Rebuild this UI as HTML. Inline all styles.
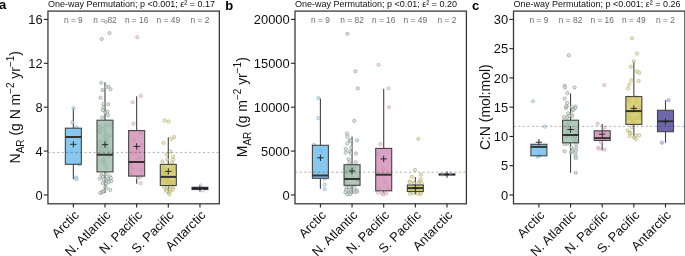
<!DOCTYPE html>
<html><head><meta charset="utf-8"><title>Figure</title><style>html,body{margin:0;padding:0;background:#fff;width:685px;height:256px;overflow:hidden;}
svg{display:block;}
text{font-family:"Liberation Sans",Arial,sans-serif;}
.tk{font-size:12.9px;fill:#111;}
.n{font-size:8.4px;fill:#6b6b6b;}
.ti{font-size:9px;fill:#111;}
.pl{font-size:13px;font-weight:bold;fill:#000;}
.at{font-size:13.9px;fill:#111;}
</style></head><body>
<svg width="685" height="256" viewBox="0 0 685 256">
<rect width="685" height="256" fill="#fff"/>
<path d="M73.35 107.6V128.2M73.35 164.3V179.3" stroke="#444" stroke-width="1.1" fill="none"/>
<g fill="#c8e5f6" fill-opacity="0.7" stroke="#7aa3c0" stroke-width="0.6"><circle cx="73.5" cy="108.3" r="1.6"/><circle cx="72.3" cy="122.3" r="1.6"/><circle cx="76.4" cy="127.2" r="1.6"/><circle cx="79.3" cy="164.4" r="1.6"/><circle cx="76" cy="177.6" r="1.6"/><circle cx="76.4" cy="179.2" r="1.6"/></g>
<rect x="65.35" y="128.2" width="16.0" height="36.1" fill="#69bcea" fill-opacity="0.8" stroke="#444" stroke-width="1.1"/>
<line x1="65.35" y1="137.0" x2="81.35" y2="137.0" stroke="#333" stroke-width="2"/>
<path d="M70.15 144.3h6.4M73.35 141.1v6.4" stroke="#222" stroke-width="0.95" fill="none"/>
<path d="M105 82.3V120.2M105 171.9V193.0" stroke="#444" stroke-width="1.1" fill="none"/>
<g fill="#d5e3db" fill-opacity="0.7" stroke="#7f8e86" stroke-width="0.6"><circle cx="105.8" cy="21.8" r="1.6"/><circle cx="109.5" cy="33.1" r="1.6"/><circle cx="101.7" cy="39" r="1.6"/><circle cx="101.25" cy="82.75" r="1.6"/><circle cx="105.9" cy="87" r="1.6"/><circle cx="108.6" cy="86.75" r="1.6"/><circle cx="110.5" cy="89.25" r="1.6"/><circle cx="102.5" cy="90.1" r="1.6"/><circle cx="100.5" cy="97.75" r="1.6"/><circle cx="103.4" cy="103.9" r="1.6"/><circle cx="108.4" cy="104.25" r="1.6"/><circle cx="103.4" cy="107.4" r="1.6"/><circle cx="102.75" cy="110" r="1.6"/><circle cx="107.5" cy="111.5" r="1.6"/><circle cx="108" cy="115.25" r="1.6"/><circle cx="102.1" cy="117.25" r="1.6"/><circle cx="105.25" cy="112.5" r="1.6"/><circle cx="105.25" cy="127.5" r="1.6"/><circle cx="99" cy="129.4" r="1.6"/><circle cx="105.5" cy="131.9" r="1.6"/><circle cx="105.5" cy="134.75" r="1.6"/><circle cx="100.9" cy="140.6" r="1.6"/><circle cx="104" cy="142.5" r="1.6"/><circle cx="106.5" cy="145" r="1.6"/><circle cx="102.75" cy="146.25" r="1.6"/><circle cx="107.75" cy="148.1" r="1.6"/><circle cx="100.25" cy="149.4" r="1.6"/><circle cx="104.6" cy="150.6" r="1.6"/><circle cx="109" cy="151.25" r="1.6"/><circle cx="101.5" cy="174.9" r="1.6"/><circle cx="105.9" cy="174.25" r="1.6"/><circle cx="102.75" cy="176.75" r="1.6"/><circle cx="109.6" cy="176.1" r="1.6"/><circle cx="99.6" cy="178.6" r="1.6"/><circle cx="103.75" cy="179.25" r="1.6"/><circle cx="107.75" cy="178.6" r="1.6"/><circle cx="110.9" cy="178" r="1.6"/><circle cx="106.5" cy="181.1" r="1.6"/><circle cx="109" cy="180.5" r="1.6"/><circle cx="111.25" cy="181.1" r="1.6"/><circle cx="102.5" cy="183" r="1.6"/><circle cx="105.9" cy="183.6" r="1.6"/><circle cx="108.4" cy="182.4" r="1.6"/><circle cx="105.25" cy="186.75" r="1.6"/><circle cx="106.5" cy="188" r="1.6"/><circle cx="110.25" cy="189.9" r="1.6"/><circle cx="104" cy="190.5" r="1.6"/><circle cx="101.5" cy="192.4" r="1.6"/><circle cx="100.25" cy="193" r="1.6"/><circle cx="103" cy="191.75" r="1.6"/><circle cx="102.71" cy="129.05" r="1.6"/><circle cx="106.96" cy="125.23" r="1.6"/><circle cx="105.47" cy="139.51" r="1.6"/><circle cx="99.25" cy="146.41" r="1.6"/><circle cx="98.99" cy="142.82" r="1.6"/><circle cx="99.41" cy="126.12" r="1.6"/><circle cx="104.02" cy="161.97" r="1.6"/><circle cx="100.11" cy="132.57" r="1.6"/><circle cx="106.66" cy="167.85" r="1.6"/><circle cx="106" cy="141.02" r="1.6"/><circle cx="111.19" cy="123.97" r="1.6"/><circle cx="109.66" cy="135.8" r="1.6"/><circle cx="100.38" cy="127.44" r="1.6"/><circle cx="102.51" cy="161.45" r="1.6"/><circle cx="100.85" cy="150.02" r="1.6"/><circle cx="106.81" cy="139.84" r="1.6"/><circle cx="105.62" cy="124.76" r="1.6"/><circle cx="99.27" cy="131.73" r="1.6"/><circle cx="107.35" cy="142.52" r="1.6"/><circle cx="102.58" cy="150.22" r="1.6"/><circle cx="104.39" cy="136.3" r="1.6"/><circle cx="108.83" cy="155.74" r="1.6"/><circle cx="101.67" cy="149.67" r="1.6"/><circle cx="105.33" cy="164.32" r="1.6"/><circle cx="107.98" cy="135.72" r="1.6"/><circle cx="111.24" cy="127.45" r="1.6"/><circle cx="103.94" cy="158.57" r="1.6"/><circle cx="100.48" cy="145.51" r="1.6"/><circle cx="99.01" cy="154.24" r="1.6"/><circle cx="108.44" cy="149.61" r="1.6"/></g>
<rect x="97" y="120.2" width="16.0" height="51.7" fill="#9cbcaa" fill-opacity="0.8" stroke="#444" stroke-width="1.1"/>
<line x1="97" y1="154.7" x2="113" y2="154.7" stroke="#333" stroke-width="2"/>
<path d="M101.8 144.7h6.4M105 141.5v6.4" stroke="#222" stroke-width="0.95" fill="none"/>
<path d="M136.65 96.3V130.6M136.65 176.1V183.8" stroke="#444" stroke-width="1.1" fill="none"/>
<g fill="#eed3e3" fill-opacity="0.7" stroke="#c693b3" stroke-width="0.6"><circle cx="137.3" cy="37.2" r="1.6"/><circle cx="140.8" cy="95.8" r="1.6"/><circle cx="132.7" cy="102.3" r="1.6"/><circle cx="133.4" cy="123.6" r="1.6"/><circle cx="140.8" cy="132.9" r="1.6"/><circle cx="132.5" cy="152.9" r="1.6"/><circle cx="137.2" cy="159.9" r="1.6"/><circle cx="132.3" cy="169.1" r="1.6"/><circle cx="130.8" cy="174.3" r="1.6"/><circle cx="137.8" cy="177.9" r="1.6"/><circle cx="140.5" cy="176.7" r="1.6"/><circle cx="140.5" cy="183.1" r="1.6"/><circle cx="134" cy="140" r="1.6"/><circle cx="139" cy="148" r="1.6"/><circle cx="131" cy="165" r="1.6"/><circle cx="141" cy="170" r="1.6"/><circle cx="141.53" cy="145.43" r="1.6"/><circle cx="139.19" cy="157.36" r="1.6"/><circle cx="137.69" cy="151.49" r="1.6"/></g>
<rect x="128.65" y="130.6" width="16.0" height="45.5" fill="#d18cb5" fill-opacity="0.8" stroke="#444" stroke-width="1.1"/>
<line x1="128.65" y1="162.0" x2="144.65" y2="162.0" stroke="#333" stroke-width="2"/>
<path d="M133.45 146.4h6.4M136.65 143.2v6.4" stroke="#222" stroke-width="0.95" fill="none"/>
<path d="M168.3 137.2V164.4M168.3 185.5V194.0" stroke="#444" stroke-width="1.1" fill="none"/>
<g fill="#ece8c0" fill-opacity="0.7" stroke="#aaa366" stroke-width="0.6"><circle cx="164.5" cy="120.6" r="1.6"/><circle cx="168.6" cy="121.5" r="1.6"/><circle cx="171.4" cy="138.75" r="1.6"/><circle cx="174.25" cy="137" r="1.6"/><circle cx="163.5" cy="142.9" r="1.6"/><circle cx="170.4" cy="151.6" r="1.6"/><circle cx="166.6" cy="154.5" r="1.6"/><circle cx="173" cy="156.6" r="1.6"/><circle cx="167.25" cy="159.5" r="1.6"/><circle cx="173.25" cy="159.75" r="1.6"/><circle cx="162.4" cy="161.4" r="1.6"/><circle cx="172" cy="162.5" r="1.6"/><circle cx="163.9" cy="186.75" r="1.6"/><circle cx="167" cy="187.4" r="1.6"/><circle cx="170.75" cy="187" r="1.6"/><circle cx="173.5" cy="187.75" r="1.6"/><circle cx="165.75" cy="189.9" r="1.6"/><circle cx="170.1" cy="189.5" r="1.6"/><circle cx="172.6" cy="189.9" r="1.6"/><circle cx="166.75" cy="191.1" r="1.6"/><circle cx="169.5" cy="192.4" r="1.6"/><circle cx="169.25" cy="194.25" r="1.6"/><circle cx="172.72" cy="183" r="1.6"/><circle cx="167.96" cy="177.92" r="1.6"/><circle cx="162.59" cy="178.6" r="1.6"/><circle cx="170.21" cy="183.88" r="1.6"/><circle cx="172.49" cy="171.05" r="1.6"/><circle cx="166.82" cy="178" r="1.6"/><circle cx="162.09" cy="174.26" r="1.6"/><circle cx="163.98" cy="168.02" r="1.6"/><circle cx="162.57" cy="179.81" r="1.6"/><circle cx="163.48" cy="170.38" r="1.6"/><circle cx="166.88" cy="181.67" r="1.6"/><circle cx="162.85" cy="174.03" r="1.6"/><circle cx="168.94" cy="181.89" r="1.6"/><circle cx="172.45" cy="181.54" r="1.6"/><circle cx="165.42" cy="173.42" r="1.6"/><circle cx="166.46" cy="181.9" r="1.6"/><circle cx="174.25" cy="168.63" r="1.6"/><circle cx="164.09" cy="170.1" r="1.6"/><circle cx="164.83" cy="174.68" r="1.6"/><circle cx="169.46" cy="170.66" r="1.6"/><circle cx="161.85" cy="173.48" r="1.6"/><circle cx="166.6" cy="176.15" r="1.6"/></g>
<rect x="160.3" y="164.4" width="16.0" height="21.1" fill="#d1c75d" fill-opacity="0.8" stroke="#444" stroke-width="1.1"/>
<line x1="160.3" y1="176.9" x2="176.3" y2="176.9" stroke="#333" stroke-width="2"/>
<path d="M165.1 171.4h6.4M168.3 168.2v6.4" stroke="#222" stroke-width="0.95" fill="none"/>
<path d="M199.95 187.6V187.2M199.95 189.6V189.5" stroke="#444" stroke-width="1.1" fill="none"/>
<rect x="191.95" y="187.2" width="16.0" height="2.4" fill="#222" stroke="#444" stroke-width="1.0"/>
<line x1="191.95" y1="188.4" x2="207.95" y2="188.4" stroke="#1a1a1a" stroke-width="1.5"/>
<path d="M196.75 188.4h6.4M199.95 185.2v6.4" stroke="#222" stroke-width="0.95" fill="none"/>
<g fill="#c4c0e6" fill-opacity="0.7" stroke="#847ebd" stroke-width="0.6" opacity="0.55"><circle cx="200.6" cy="185.3" r="1.6"/><circle cx="202.6" cy="190.6" r="1.6"/></g>
<line x1="47.95" y1="152.4" x2="219.35" y2="152.4" stroke="#222" stroke-opacity="0.38" stroke-width="0.9" stroke-dasharray="2.3 2.253"/>
<rect x="47.95" y="11.1" width="171.4" height="192.7" fill="none" stroke="#3a3a3a" stroke-width="1.3"/>
<line x1="43.85" y1="194.95" x2="47.95" y2="194.95" stroke="#222" stroke-width="1.1"/>
<text x="42.65" y="199.55" text-anchor="end" class="tk">0</text>
<line x1="43.85" y1="151.06" x2="47.95" y2="151.06" stroke="#222" stroke-width="1.1"/>
<text x="42.65" y="155.66" text-anchor="end" class="tk">4</text>
<line x1="43.85" y1="107.17" x2="47.95" y2="107.17" stroke="#222" stroke-width="1.1"/>
<text x="42.65" y="111.77" text-anchor="end" class="tk">8</text>
<line x1="43.85" y1="63.29" x2="47.95" y2="63.29" stroke="#222" stroke-width="1.1"/>
<text x="42.65" y="67.89" text-anchor="end" class="tk">12</text>
<line x1="43.85" y1="19.4" x2="47.95" y2="19.4" stroke="#222" stroke-width="1.1"/>
<text x="42.65" y="24" text-anchor="end" class="tk">16</text>
<line x1="73.35" y1="203.8" x2="73.35" y2="207.5" stroke="#222" stroke-width="1.1"/>
<text transform="translate(79.7,216) rotate(-45)" text-anchor="end" class="tk">Arctic</text>
<text x="73.35" y="23" text-anchor="middle" class="n">n = 9</text>
<line x1="105" y1="203.8" x2="105" y2="207.5" stroke="#222" stroke-width="1.1"/>
<text transform="translate(111.35,216) rotate(-45)" text-anchor="end" class="tk">N. Atlantic</text>
<text x="105" y="23" text-anchor="middle" class="n">n = 82</text>
<line x1="136.65" y1="203.8" x2="136.65" y2="207.5" stroke="#222" stroke-width="1.1"/>
<text transform="translate(143,216) rotate(-45)" text-anchor="end" class="tk">N. Pacific</text>
<text x="136.65" y="23" text-anchor="middle" class="n">n = 16</text>
<line x1="168.3" y1="203.8" x2="168.3" y2="207.5" stroke="#222" stroke-width="1.1"/>
<text transform="translate(174.65,216) rotate(-45)" text-anchor="end" class="tk">S. Pacific</text>
<text x="168.3" y="23" text-anchor="middle" class="n">n = 49</text>
<line x1="199.95" y1="203.8" x2="199.95" y2="207.5" stroke="#222" stroke-width="1.1"/>
<text transform="translate(206.3,216) rotate(-45)" text-anchor="end" class="tk">Antarctic</text>
<text x="199.95" y="23" text-anchor="middle" class="n">n = 2</text>
<text x="47.95" y="6.8" class="ti">One-way Permutation; p &lt;0.001; ε² = 0.17</text>
<text x="-1.0" y="9.3" class="pl">a</text>
<path d="M320.4 98.6V145.3M320.4 178.3V188.8" stroke="#444" stroke-width="1.1" fill="none"/>
<g fill="#c8e5f6" fill-opacity="0.7" stroke="#7aa3c0" stroke-width="0.6"><circle cx="318.4" cy="98.1" r="1.6"/><circle cx="318.4" cy="118.1" r="1.6"/><circle cx="314" cy="144.8" r="1.6"/><circle cx="324.7" cy="178.75" r="1.6"/><circle cx="324.7" cy="184.5" r="1.6"/><circle cx="324.7" cy="189.2" r="1.6"/><circle cx="320.7" cy="150.4" r="1.6"/></g>
<rect x="312.4" y="145.3" width="16.0" height="33" fill="#69bcea" fill-opacity="0.8" stroke="#444" stroke-width="1.1"/>
<line x1="312.4" y1="175.5" x2="328.4" y2="175.5" stroke="#333" stroke-width="2"/>
<path d="M317.2 157.8h6.4M320.4 154.6v6.4" stroke="#222" stroke-width="0.95" fill="none"/>
<path d="M352.05 136.6V164.7M352.05 185.3V194.0" stroke="#444" stroke-width="1.1" fill="none"/>
<g fill="#d5e3db" fill-opacity="0.7" stroke="#7f8e86" stroke-width="0.6"><circle cx="347.3" cy="33.75" r="1.6"/><circle cx="355.4" cy="71.25" r="1.6"/><circle cx="357.8" cy="88.4" r="1.6"/><circle cx="354.3" cy="120.8" r="1.6"/><circle cx="347" cy="133.5" r="1.6"/><circle cx="347.25" cy="136.4" r="1.6"/><circle cx="349.5" cy="140.1" r="1.6"/><circle cx="350.75" cy="140.75" r="1.6"/><circle cx="357" cy="140.5" r="1.6"/><circle cx="347.5" cy="143.25" r="1.6"/><circle cx="351.25" cy="147.6" r="1.6"/><circle cx="345.75" cy="148.9" r="1.6"/><circle cx="349.75" cy="151.4" r="1.6"/><circle cx="345.75" cy="152.6" r="1.6"/><circle cx="351" cy="153.5" r="1.6"/><circle cx="356" cy="153.5" r="1.6"/><circle cx="348.5" cy="159.25" r="1.6"/><circle cx="349.5" cy="162.6" r="1.6"/><circle cx="355.75" cy="162.25" r="1.6"/><circle cx="346.6" cy="187.25" r="1.6"/><circle cx="349.1" cy="187.9" r="1.6"/><circle cx="354.1" cy="187.5" r="1.6"/><circle cx="346" cy="189.75" r="1.6"/><circle cx="350.4" cy="189.75" r="1.6"/><circle cx="356.6" cy="190.4" r="1.6"/><circle cx="345.4" cy="192.25" r="1.6"/><circle cx="348.5" cy="192.9" r="1.6"/><circle cx="351" cy="192.25" r="1.6"/><circle cx="354.75" cy="192" r="1.6"/><circle cx="357.25" cy="191.6" r="1.6"/><circle cx="347.25" cy="194.1" r="1.6"/><circle cx="350" cy="194.1" r="1.6"/><circle cx="357.94" cy="178.35" r="1.6"/><circle cx="352.25" cy="177.07" r="1.6"/><circle cx="354.34" cy="167.15" r="1.6"/><circle cx="357.24" cy="179.93" r="1.6"/><circle cx="356.92" cy="180.24" r="1.6"/><circle cx="350.65" cy="173.22" r="1.6"/><circle cx="346.9" cy="177.36" r="1.6"/><circle cx="346.36" cy="167.39" r="1.6"/><circle cx="348.26" cy="169.06" r="1.6"/><circle cx="349.97" cy="167.13" r="1.6"/><circle cx="345.55" cy="168.86" r="1.6"/><circle cx="346.87" cy="172.6" r="1.6"/><circle cx="345.88" cy="181.59" r="1.6"/><circle cx="353.53" cy="168.81" r="1.6"/><circle cx="348.83" cy="172.31" r="1.6"/><circle cx="350.28" cy="168.36" r="1.6"/></g>
<rect x="344.05" y="164.7" width="16.0" height="20.6" fill="#9cbcaa" fill-opacity="0.8" stroke="#444" stroke-width="1.1"/>
<line x1="344.05" y1="179.0" x2="360.05" y2="179.0" stroke="#333" stroke-width="2"/>
<path d="M348.85 171.0h6.4M352.05 167.8v6.4" stroke="#222" stroke-width="0.95" fill="none"/>
<path d="M383.7 88.8V148.4M383.7 190.8V193.5" stroke="#444" stroke-width="1.1" fill="none"/>
<g fill="#eed3e3" fill-opacity="0.7" stroke="#c693b3" stroke-width="0.6"><circle cx="378.5" cy="64.8" r="1.6"/><circle cx="388.5" cy="88.3" r="1.6"/><circle cx="389" cy="107.2" r="1.6"/><circle cx="380.4" cy="144" r="1.6"/><circle cx="384.9" cy="181.5" r="1.6"/><circle cx="379" cy="188" r="1.6"/><circle cx="378" cy="192.4" r="1.6"/><circle cx="382" cy="193.6" r="1.6"/><circle cx="383.6" cy="194.25" r="1.6"/><circle cx="386.1" cy="193.25" r="1.6"/><circle cx="388.24" cy="189.03" r="1.6"/><circle cx="383.26" cy="168.96" r="1.6"/><circle cx="378.32" cy="153.93" r="1.6"/></g>
<rect x="375.7" y="148.4" width="16.0" height="42.4" fill="#d18cb5" fill-opacity="0.8" stroke="#444" stroke-width="1.1"/>
<line x1="375.7" y1="174.7" x2="391.7" y2="174.7" stroke="#333" stroke-width="2"/>
<path d="M380.5 158.9h6.4M383.7 155.7v6.4" stroke="#222" stroke-width="0.95" fill="none"/>
<path d="M415.35 177.1V185.0M415.35 191.5V194.5" stroke="#444" stroke-width="1.1" fill="none"/>
<g fill="#ece8c0" fill-opacity="0.7" stroke="#aaa366" stroke-width="0.6"><circle cx="418.3" cy="138.75" r="1.6"/><circle cx="415" cy="170" r="1.6"/><circle cx="420.9" cy="174.7" r="1.6"/><circle cx="411.9" cy="176.8" r="1.6"/><circle cx="420.7" cy="179.3" r="1.6"/><circle cx="409.75" cy="181.5" r="1.6"/><circle cx="419.6" cy="181.3" r="1.6"/><circle cx="414.1" cy="183.5" r="1.6"/><circle cx="418.5" cy="182.8" r="1.6"/><circle cx="421.8" cy="183.1" r="1.6"/><circle cx="409.6" cy="182" r="1.6"/><circle cx="413.9" cy="183.1" r="1.6"/><circle cx="410" cy="193.7" r="1.6"/><circle cx="412.7" cy="192.9" r="1.6"/><circle cx="417.8" cy="193.3" r="1.6"/><circle cx="420.1" cy="194.1" r="1.6"/><circle cx="421.3" cy="192.5" r="1.6"/><circle cx="413.3" cy="187.43" r="1.6"/><circle cx="419.63" cy="187.07" r="1.6"/><circle cx="409.15" cy="189.83" r="1.6"/><circle cx="415.72" cy="187.01" r="1.6"/><circle cx="415.91" cy="186.59" r="1.6"/><circle cx="415.72" cy="189.92" r="1.6"/></g>
<rect x="407.35" y="185.0" width="16.0" height="6.5" fill="#d1c75d" fill-opacity="0.8" stroke="#444" stroke-width="1.1"/>
<line x1="407.35" y1="188.1" x2="423.35" y2="188.1" stroke="#333" stroke-width="2"/>
<path d="M412.15 188.0h6.4M415.35 184.8v6.4" stroke="#222" stroke-width="0.95" fill="none"/>
<path d="M447 174.3V174.0M447 175.0V174.8" stroke="#444" stroke-width="1.1" fill="none"/>
<rect x="439" y="174.0" width="16.0" height="1" fill="#222" stroke="#444" stroke-width="1.0"/>
<line x1="439" y1="174.5" x2="455" y2="174.5" stroke="#1a1a1a" stroke-width="1.5"/>
<path d="M443.8 174.6h6.4M447 171.4v6.4" stroke="#222" stroke-width="0.95" fill="none"/>
<g fill="#c4c0e6" fill-opacity="0.7" stroke="#847ebd" stroke-width="0.6" opacity="0.55"><circle cx="442.3" cy="174.5" r="1.6"/><circle cx="450.5" cy="173.5" r="1.6"/></g>
<line x1="295" y1="172.2" x2="466.4" y2="172.2" stroke="#222" stroke-opacity="0.38" stroke-width="0.9" stroke-dasharray="2.3 2.253"/>
<rect x="295.0" y="11.1" width="171.4" height="192.7" fill="none" stroke="#3a3a3a" stroke-width="1.3"/>
<line x1="290.9" y1="194.95" x2="295" y2="194.95" stroke="#222" stroke-width="1.1"/>
<text x="289.7" y="199.55" text-anchor="end" class="tk">0</text>
<line x1="290.9" y1="151.06" x2="295" y2="151.06" stroke="#222" stroke-width="1.1"/>
<text x="289.7" y="155.66" text-anchor="end" class="tk">5000</text>
<line x1="290.9" y1="107.17" x2="295" y2="107.17" stroke="#222" stroke-width="1.1"/>
<text x="289.7" y="111.77" text-anchor="end" class="tk">10000</text>
<line x1="290.9" y1="63.29" x2="295" y2="63.29" stroke="#222" stroke-width="1.1"/>
<text x="289.7" y="67.89" text-anchor="end" class="tk">15000</text>
<line x1="290.9" y1="19.4" x2="295" y2="19.4" stroke="#222" stroke-width="1.1"/>
<text x="289.7" y="24" text-anchor="end" class="tk">20000</text>
<line x1="320.4" y1="203.8" x2="320.4" y2="207.5" stroke="#222" stroke-width="1.1"/>
<text transform="translate(326.75,216) rotate(-45)" text-anchor="end" class="tk">Arctic</text>
<text x="320.4" y="23" text-anchor="middle" class="n">n = 9</text>
<line x1="352.05" y1="203.8" x2="352.05" y2="207.5" stroke="#222" stroke-width="1.1"/>
<text transform="translate(358.4,216) rotate(-45)" text-anchor="end" class="tk">N. Atlantic</text>
<text x="352.05" y="23" text-anchor="middle" class="n">n = 82</text>
<line x1="383.7" y1="203.8" x2="383.7" y2="207.5" stroke="#222" stroke-width="1.1"/>
<text transform="translate(390.05,216) rotate(-45)" text-anchor="end" class="tk">N. Pacific</text>
<text x="383.7" y="23" text-anchor="middle" class="n">n = 16</text>
<line x1="415.35" y1="203.8" x2="415.35" y2="207.5" stroke="#222" stroke-width="1.1"/>
<text transform="translate(421.7,216) rotate(-45)" text-anchor="end" class="tk">S. Pacific</text>
<text x="415.35" y="23" text-anchor="middle" class="n">n = 49</text>
<line x1="447" y1="203.8" x2="447" y2="207.5" stroke="#222" stroke-width="1.1"/>
<text transform="translate(453.35,216) rotate(-45)" text-anchor="end" class="tk">Antarctic</text>
<text x="447" y="23" text-anchor="middle" class="n">n = 2</text>
<text x="295" y="6.8" class="ti">One-way Permutation; p &lt;0.01; ε² = 0.20</text>
<text x="225.3" y="9.6" class="pl">b</text>
<path d="M538.9 144.3V144.3M538.9 155.8V157.0" stroke="#444" stroke-width="1.1" fill="none"/>
<g fill="#c8e5f6" fill-opacity="0.7" stroke="#7aa3c0" stroke-width="0.6"><circle cx="533" cy="101.25" r="1.6"/><circle cx="544.5" cy="126.7" r="1.6"/><circle cx="537.7" cy="156.6" r="1.6"/><circle cx="539.9" cy="155.2" r="1.6"/></g>
<rect x="530.9" y="144.3" width="16.0" height="11.5" fill="#69bcea" fill-opacity="0.8" stroke="#444" stroke-width="1.1"/>
<line x1="530.9" y1="146.9" x2="546.9" y2="146.9" stroke="#333" stroke-width="2"/>
<path d="M535.7 142.2h6.4M538.9 139v6.4" stroke="#222" stroke-width="0.95" fill="none"/>
<path d="M570.55 93.4V120.2M570.55 142.8V172.8" stroke="#444" stroke-width="1.1" fill="none"/>
<g fill="#d5e3db" fill-opacity="0.7" stroke="#7f8e86" stroke-width="0.6"><circle cx="568.75" cy="55.3" r="1.6"/><circle cx="564.6" cy="85.6" r="1.6"/><circle cx="565" cy="87.5" r="1.6"/><circle cx="574.6" cy="87.5" r="1.6"/><circle cx="567.4" cy="93.1" r="1.6"/><circle cx="564.6" cy="98.5" r="1.6"/><circle cx="567.1" cy="103.1" r="1.6"/><circle cx="566.5" cy="106.9" r="1.6"/><circle cx="565.9" cy="108.1" r="1.6"/><circle cx="571.5" cy="106.9" r="1.6"/><circle cx="575.5" cy="106.5" r="1.6"/><circle cx="575.25" cy="108.1" r="1.6"/><circle cx="572.75" cy="110" r="1.6"/><circle cx="566.5" cy="105.9" r="1.6"/><circle cx="573.4" cy="109.6" r="1.6"/><circle cx="568" cy="113.4" r="1.6"/><circle cx="571.5" cy="114.6" r="1.6"/><circle cx="569" cy="115.9" r="1.6"/><circle cx="572.1" cy="116.25" r="1.6"/><circle cx="564" cy="117.1" r="1.6"/><circle cx="567.1" cy="117.5" r="1.6"/><circle cx="564.6" cy="144.1" r="1.6"/><circle cx="567.5" cy="143.75" r="1.6"/><circle cx="575.9" cy="144.1" r="1.6"/><circle cx="571.5" cy="147.5" r="1.6"/><circle cx="576.25" cy="147.5" r="1.6"/><circle cx="564.6" cy="151.25" r="1.6"/><circle cx="572.5" cy="149.75" r="1.6"/><circle cx="575.9" cy="150.75" r="1.6"/><circle cx="570.9" cy="152.25" r="1.6"/><circle cx="575.5" cy="153.5" r="1.6"/><circle cx="575.5" cy="156.6" r="1.6"/><circle cx="575.9" cy="158.25" r="1.6"/><circle cx="572.1" cy="151.6" r="1.6"/><circle cx="575.8" cy="172.8" r="1.6"/><circle cx="575.27" cy="135.35" r="1.6"/><circle cx="567.44" cy="128.89" r="1.6"/><circle cx="566.22" cy="136.83" r="1.6"/><circle cx="570.97" cy="136.97" r="1.6"/><circle cx="568.34" cy="126.07" r="1.6"/><circle cx="574.6" cy="141" r="1.6"/><circle cx="575.13" cy="137.5" r="1.6"/><circle cx="574.69" cy="136.2" r="1.6"/><circle cx="567" cy="131.85" r="1.6"/><circle cx="568.67" cy="122.27" r="1.6"/><circle cx="564.41" cy="127.18" r="1.6"/><circle cx="567.42" cy="135.27" r="1.6"/><circle cx="576.48" cy="130.47" r="1.6"/><circle cx="576.23" cy="141.07" r="1.6"/><circle cx="576.47" cy="128.85" r="1.6"/><circle cx="566.92" cy="126.15" r="1.6"/></g>
<rect x="562.55" y="120.2" width="16.0" height="22.6" fill="#9cbcaa" fill-opacity="0.8" stroke="#444" stroke-width="1.1"/>
<line x1="562.55" y1="135.0" x2="578.55" y2="135.0" stroke="#333" stroke-width="2"/>
<path d="M567.35 129.5h6.4M570.55 126.3v6.4" stroke="#222" stroke-width="0.95" fill="none"/>
<path d="M602.2 124.0V130.8M602.2 140.5V150.6" stroke="#444" stroke-width="1.1" fill="none"/>
<g fill="#eed3e3" fill-opacity="0.7" stroke="#c693b3" stroke-width="0.6"><circle cx="604.3" cy="85.2" r="1.6"/><circle cx="597.6" cy="123.6" r="1.6"/><circle cx="604.6" cy="127.6" r="1.6"/><circle cx="600.9" cy="142.2" r="1.6"/><circle cx="598.1" cy="147.8" r="1.6"/><circle cx="599.5" cy="148.7" r="1.6"/><circle cx="604.6" cy="149.6" r="1.6"/><circle cx="598.26" cy="133.67" r="1.6"/><circle cx="603.81" cy="138.33" r="1.6"/></g>
<rect x="594.2" y="130.8" width="16.0" height="9.7" fill="#d18cb5" fill-opacity="0.8" stroke="#444" stroke-width="1.1"/>
<line x1="594.2" y1="138.1" x2="610.2" y2="138.1" stroke="#333" stroke-width="2"/>
<path d="M599 134.2h6.4M602.2 131v6.4" stroke="#222" stroke-width="0.95" fill="none"/>
<path d="M633.85 61.3V96.6M633.85 124.4V138.3" stroke="#444" stroke-width="1.1" fill="none"/>
<g fill="#ece8c0" fill-opacity="0.7" stroke="#aaa366" stroke-width="0.6"><circle cx="632" cy="38.4" r="1.6"/><circle cx="637" cy="53.6" r="1.6"/><circle cx="633.8" cy="61.25" r="1.6"/><circle cx="630.8" cy="66.7" r="1.6"/><circle cx="637" cy="71.4" r="1.6"/><circle cx="639.3" cy="72.8" r="1.6"/><circle cx="631.5" cy="80.4" r="1.6"/><circle cx="638.6" cy="81" r="1.6"/><circle cx="629.25" cy="84.5" r="1.6"/><circle cx="628" cy="88.5" r="1.6"/><circle cx="628" cy="97.6" r="1.6"/><circle cx="636.1" cy="97.4" r="1.6"/><circle cx="631.75" cy="127.4" r="1.6"/><circle cx="627.75" cy="130.5" r="1.6"/><circle cx="629.9" cy="132.4" r="1.6"/><circle cx="630.5" cy="133.6" r="1.6"/><circle cx="629.5" cy="136.1" r="1.6"/><circle cx="636.1" cy="135.5" r="1.6"/><circle cx="639.25" cy="135.25" r="1.6"/><circle cx="634" cy="137.4" r="1.6"/><circle cx="636.1" cy="139.25" r="1.6"/><circle cx="638.28" cy="109.99" r="1.6"/><circle cx="635.84" cy="117.93" r="1.6"/><circle cx="628.45" cy="114.48" r="1.6"/><circle cx="639.18" cy="117.5" r="1.6"/><circle cx="637.1" cy="109.96" r="1.6"/><circle cx="629.67" cy="117.67" r="1.6"/><circle cx="631.67" cy="117.96" r="1.6"/><circle cx="639.98" cy="107.92" r="1.6"/><circle cx="632.57" cy="121.58" r="1.6"/><circle cx="636.77" cy="102.32" r="1.6"/><circle cx="629" cy="101.85" r="1.6"/><circle cx="639.11" cy="118.1" r="1.6"/><circle cx="629.25" cy="118.6" r="1.6"/><circle cx="640.09" cy="114.4" r="1.6"/><circle cx="631.91" cy="111.71" r="1.6"/><circle cx="629.05" cy="98.45" r="1.6"/><circle cx="639.97" cy="114.21" r="1.6"/><circle cx="634.2" cy="121.25" r="1.6"/></g>
<rect x="625.85" y="96.6" width="16.0" height="27.8" fill="#d1c75d" fill-opacity="0.8" stroke="#444" stroke-width="1.1"/>
<line x1="625.85" y1="111.1" x2="641.85" y2="111.1" stroke="#333" stroke-width="2"/>
<path d="M630.65 108.4h6.4M633.85 105.2v6.4" stroke="#222" stroke-width="0.95" fill="none"/>
<path d="M665.5 100.2V110.3M665.5 131.7V142.7" stroke="#444" stroke-width="1.1" fill="none"/>
<g fill="#c4c0e6" fill-opacity="0.7" stroke="#847ebd" stroke-width="0.6"><circle cx="668.4" cy="100.2" r="1.6"/><circle cx="661.9" cy="142.7" r="1.6"/></g>
<rect x="657.5" y="110.3" width="16.0" height="21.4" fill="#4b4195" fill-opacity="0.8" stroke="#444" stroke-width="1.1"/>
<line x1="657.5" y1="121.3" x2="673.5" y2="121.3" stroke="#333" stroke-width="2"/>
<path d="M662.3 121.5h6.4M665.5 118.3v6.4" stroke="#222" stroke-width="0.95" fill="none"/>
<line x1="513.5" y1="126.3" x2="684.9" y2="126.3" stroke="#222" stroke-opacity="0.38" stroke-width="0.9" stroke-dasharray="2.3 2.253"/>
<rect x="513.5" y="11.1" width="171.4" height="192.7" fill="none" stroke="#3a3a3a" stroke-width="1.3"/>
<line x1="509.4" y1="194.95" x2="513.5" y2="194.95" stroke="#222" stroke-width="1.1"/>
<text x="508.2" y="199.55" text-anchor="end" class="tk">0</text>
<line x1="509.4" y1="165.69" x2="513.5" y2="165.69" stroke="#222" stroke-width="1.1"/>
<text x="508.2" y="170.29" text-anchor="end" class="tk">5</text>
<line x1="509.4" y1="136.43" x2="513.5" y2="136.43" stroke="#222" stroke-width="1.1"/>
<text x="508.2" y="141.03" text-anchor="end" class="tk">10</text>
<line x1="509.4" y1="107.17" x2="513.5" y2="107.17" stroke="#222" stroke-width="1.1"/>
<text x="508.2" y="111.77" text-anchor="end" class="tk">15</text>
<line x1="509.4" y1="77.92" x2="513.5" y2="77.92" stroke="#222" stroke-width="1.1"/>
<text x="508.2" y="82.52" text-anchor="end" class="tk">20</text>
<line x1="509.4" y1="48.66" x2="513.5" y2="48.66" stroke="#222" stroke-width="1.1"/>
<text x="508.2" y="53.26" text-anchor="end" class="tk">25</text>
<line x1="509.4" y1="19.4" x2="513.5" y2="19.4" stroke="#222" stroke-width="1.1"/>
<text x="508.2" y="24" text-anchor="end" class="tk">30</text>
<line x1="538.9" y1="203.8" x2="538.9" y2="207.5" stroke="#222" stroke-width="1.1"/>
<text transform="translate(545.25,216) rotate(-45)" text-anchor="end" class="tk">Arctic</text>
<text x="538.9" y="23" text-anchor="middle" class="n">n = 9</text>
<line x1="570.55" y1="203.8" x2="570.55" y2="207.5" stroke="#222" stroke-width="1.1"/>
<text transform="translate(576.9,216) rotate(-45)" text-anchor="end" class="tk">N. Atlantic</text>
<text x="570.55" y="23" text-anchor="middle" class="n">n = 82</text>
<line x1="602.2" y1="203.8" x2="602.2" y2="207.5" stroke="#222" stroke-width="1.1"/>
<text transform="translate(608.55,216) rotate(-45)" text-anchor="end" class="tk">N. Pacific</text>
<text x="602.2" y="23" text-anchor="middle" class="n">n = 16</text>
<line x1="633.85" y1="203.8" x2="633.85" y2="207.5" stroke="#222" stroke-width="1.1"/>
<text transform="translate(640.2,216) rotate(-45)" text-anchor="end" class="tk">S. Pacific</text>
<text x="633.85" y="23" text-anchor="middle" class="n">n = 49</text>
<line x1="665.5" y1="203.8" x2="665.5" y2="207.5" stroke="#222" stroke-width="1.1"/>
<text transform="translate(671.85,216) rotate(-45)" text-anchor="end" class="tk">Antarctic</text>
<text x="665.5" y="23" text-anchor="middle" class="n">n = 2</text>
<text x="513.5" y="6.8" class="ti">One-way Permutation; p &lt;0.001; ε² = 0.26</text>
<text x="472.0" y="9.6" class="pl">c</text>
<text transform="translate(19.8,107.2) rotate(-90)" text-anchor="middle" class="at">N<tspan font-size="10" dy="4.4">AR</tspan><tspan dy="-4.4"> (g N m</tspan><tspan font-size="10" dy="-6">−2</tspan><tspan dy="6"> yr</tspan><tspan font-size="10" dy="-6">−1</tspan><tspan dy="6">)</tspan></text>
<text transform="translate(246.8,107.2) rotate(-90)" text-anchor="middle" class="at">M<tspan font-size="10" dy="4.4">AR</tspan><tspan dy="-4.4"> (g m</tspan><tspan font-size="10" dy="-6">−2</tspan><tspan dy="6"> yr</tspan><tspan font-size="10" dy="-6">−1</tspan><tspan dy="6">)</tspan></text>
<text transform="translate(489.5,107.2) rotate(-90)" text-anchor="middle" class="at">C:N (mol:mol)</text>
</svg>
</body></html>
